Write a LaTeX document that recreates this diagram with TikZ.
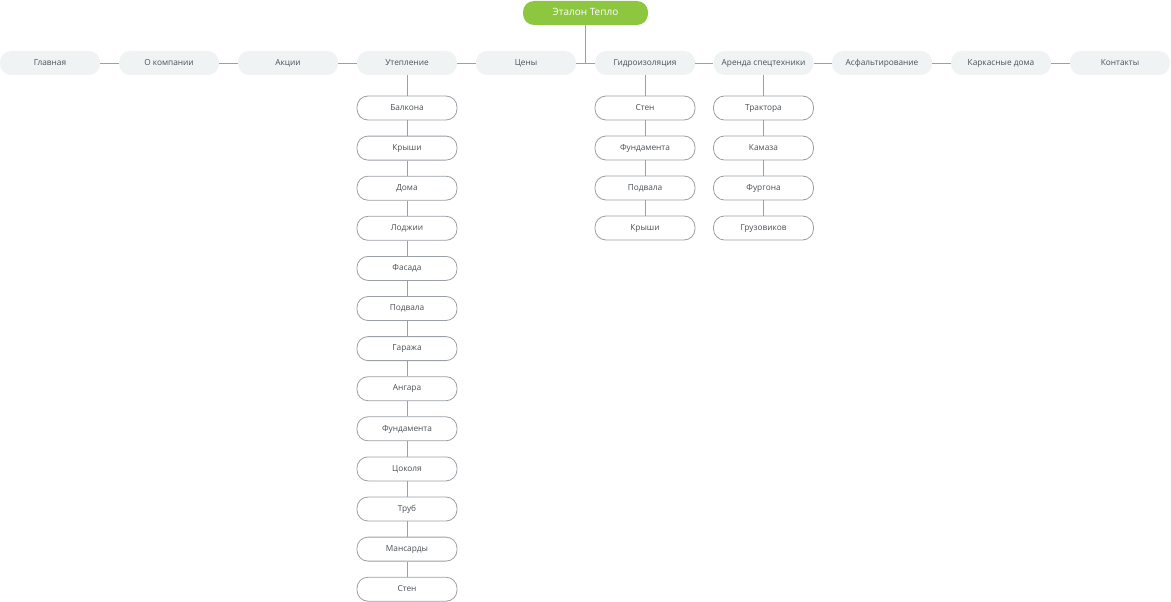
\documentclass[tikz,border=0pt]{standalone}
\usepackage{fontspec}
\setmainfont{Open Sans}
\definecolor{navfill}{HTML}{F0F3F4}
\definecolor{linec}{HTML}{9AA0A6}
\definecolor{txt}{HTML}{4A5056}
\definecolor{rootg}{HTML}{8DC63F}
\begin{document}
\begin{tikzpicture}[x=1pt,y=-1pt,
  base/.style={rounded corners=11pt,minimum width=100pt,minimum height=24pt,inner sep=0pt,text height=6pt,text depth=1.5pt,text=txt,font=\fontsize{8.3}{9}\selectfont},
  nav/.style={base,fill=navfill},
  child/.style={base,draw=linec,line width=0.8pt,fill=white},
  rootbox/.style={rounded corners=11pt,fill=rootg,minimum width=125pt,minimum height=24pt,inner sep=0pt,text height=7.5pt,text depth=2pt,text=white,font=\fontsize{10}{12}\selectfont},
  conn/.style={draw=linec,line width=0.8pt}]
\useasboundingbox (0,0) rectangle (1171,602);
\node[rootbox] (root) at (585.5,13) {Эталон Тепло};
\node[nav] (n1) at (50,63) {Главная};
\node[nav] (n2) at (169,63) {О компании};
\node[nav] (n3) at (288,63) {Акции};
\node[nav] (n4) at (407,63) {Утепление};
\node[nav] (n5) at (526,63) {Цены};
\node[nav] (n6) at (645,63) {Гидроизоляция};
\node[nav] (n7) at (763.5,63) {Аренда спецтехники};
\node[nav] (n8) at (882,63) {Асфальтирование};
\node[nav] (n9) at (1001,63) {Каркасные дома};
\node[nav] (n10) at (1120,63) {Контакты};
\foreach \a/\b in {n1/n2,n2/n3,n3/n4,n4/n5,n5/n6,n6/n7,n7/n8,n8/n9,n9/n10}
  \draw[conn] (\a.east) -- (\b.west);
\draw[conn] (root.south) -- (root.south |- n5.east);
% Утепление
\foreach \t [count=\i] in {Балкона,Крыши,Дома,Лоджии,Фасада,Подвала,Гаража,Ангара,Фундамента,Цоколя,Труб,Мансарды,Стен}
  \node[child] (u\i) at (407,{108+(\i-1)*40.1}) {\t};
\draw[conn] (n4.south) -- (u1.north);
\foreach \i [evaluate=\i as \j using int(\i+1)] in {1,...,12}
  \draw[conn] (u\i.south) -- (u\j.north);
% Гидроизоляция
\foreach \t [count=\i] in {Стен,Фундамента,Подвала,Крыши}
  \node[child] (g\i) at (645,{108+(\i-1)*40}) {\t};
\draw[conn] (n6.south) -- (g1.north);
\foreach \i [evaluate=\i as \j using int(\i+1)] in {1,2,3}
  \draw[conn] (g\i.south) -- (g\j.north);
% Аренда
\foreach \t [count=\i] in {Трактора,Камаза,Фургона,Грузовиков}
  \node[child] (a\i) at (763.5,{108+(\i-1)*40}) {\t};
\draw[conn] (n7.south) -- (a1.north);
\foreach \i [evaluate=\i as \j using int(\i+1)] in {1,2,3}
  \draw[conn] (a\i.south) -- (a\j.north);
\end{tikzpicture}
\end{document}
